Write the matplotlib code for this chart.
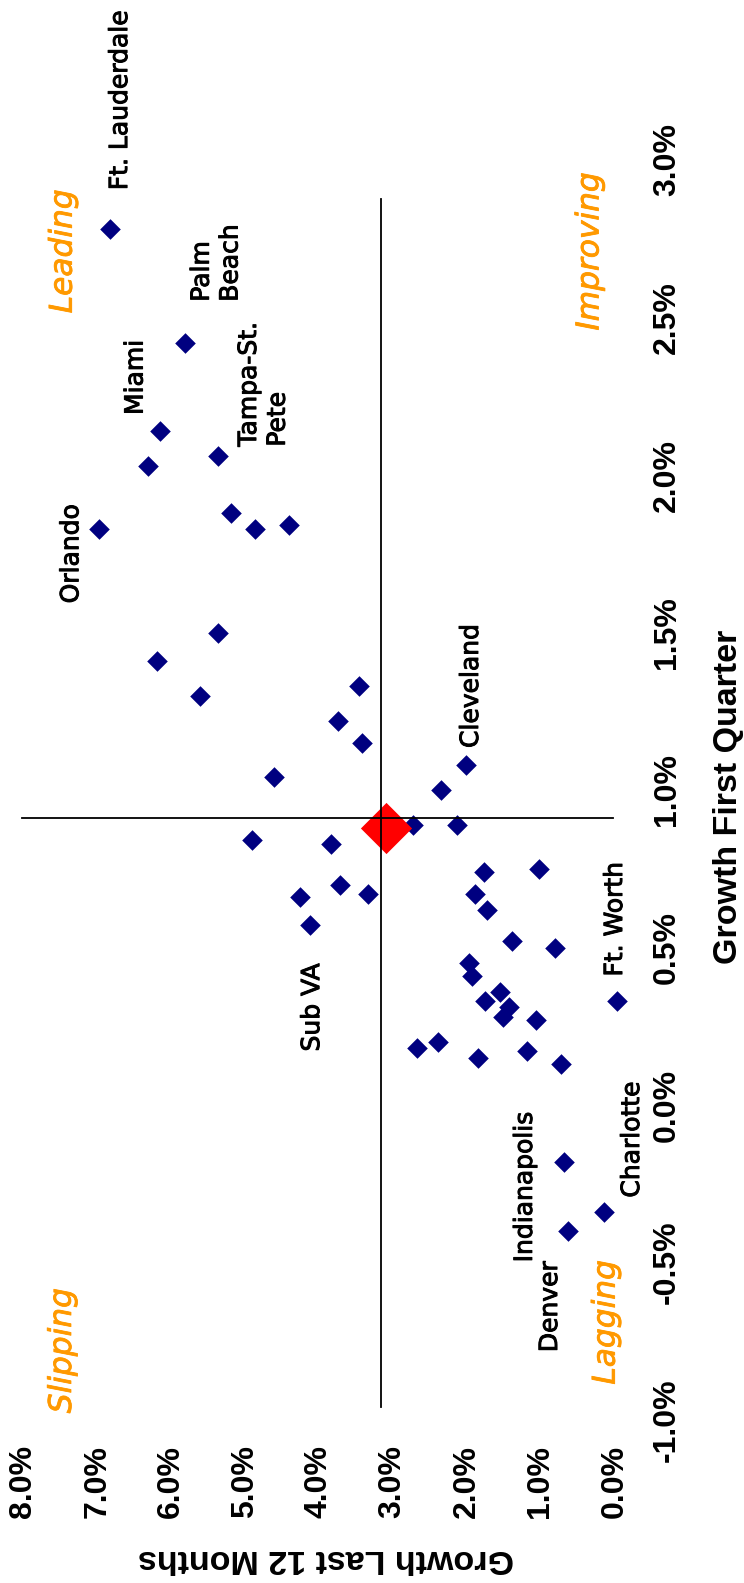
import matplotlib
matplotlib.use("Agg")
import matplotlib.pyplot as plt
import matplotlib.patheffects as pe
from matplotlib.ticker import FuncFormatter, FixedLocator

# ---- data: (growth last 12 months %, growth first quarter %) ----
last12 = [6.82, 5.81, 6.15, 6.31, 5.36, 6.98, 5.19, 4.86, 4.41, 5.36,
          6.19, 5.61, 3.46, 3.74, 3.42, 4.61, 2.01, 2.34, 2.72, 2.13,
          4.90, 3.83, 4.25, 3.71, 3.33, 4.12, 1.76, 1.02, 1.88, 1.72,
          1.38, 0.80, 1.97, 1.92, 1.55, 1.75, 1.43, 1.50, 1.06, -0.03,
          2.67, 2.38, 1.84, 1.18, 0.72, 0.68, 0.14, 0.63]
first_q = [2.78, 2.42, 2.14, 2.03, 2.06, 1.83, 1.88, 1.83, 1.84, 1.50,
           1.41, 1.30, 1.33, 1.22, 1.15, 1.04, 1.08, 1.00, 0.89, 0.89,
           0.84, 0.83, 0.66, 0.70, 0.67, 0.57, 0.74, 0.75, 0.67, 0.62,
           0.52, 0.50, 0.45, 0.41, 0.36, 0.33, 0.31, 0.28, 0.27, 0.33,
           0.18, 0.20, 0.15, 0.17, 0.13, -0.18, -0.34, -0.40]

us_last12 = 3.09
us_first_q = 0.88
avg_last12 = 3.16
avg_first_q = 0.91

x_ticks = [0, 1, 2, 3, 4, 5, 6, 7, 8]
y_ticks = [-1.0, -0.5, 0.0, 0.5, 1.0, 1.5, 2.0, 2.5, 3.0]

# metro labels: (text, x, y)
metro_labels = [
    ("Ft. Lauderdale", 6.69, 3.19),
    ("Miami", 6.48, 2.31),
    ("Orlando", 7.35, 1.75),
    ("Cleveland", 1.94, 1.33),
    ("Ft. Worth", -0.01, 0.59),
    ("Sub VA", 4.09, 0.31),
    ("Charlotte", -0.24, -0.11),
    ("Indianapolis", 1.21, -0.26),
    ("Denver", 0.87, -0.64),
]
multi_labels = [("Palm\nBeach", 5.39, 2.55), ("Tampa-St.\nPete", 4.75, 2.09)]
quadrants = [("Leading", 7.46, 2.71), ("Improving", 0.33, 2.71),
             ("Slipping", 7.47, -0.78), ("Lagging", 0.11, -0.69)]

W, H = 744, 1583
fig = plt.figure(figsize=(W / 100, H / 100), dpi=100)
ax = fig.add_axes([23.3 / W, 1 - 1420 / H, (614.3 - 23.3) / W, (1420 - 160) / H])
ax.set_xlim(8.0, 0.0)
ax.set_ylim(-1.0, 3.0)
for s in ax.spines.values():
    s.set_visible(False)

navy = "#000080"
orange = "#FF9900"

ax.scatter(last12, first_q, marker="D", s=110, color=navy, linewidths=0,
           zorder=3, clip_on=False)
ax.scatter([us_last12], [us_first_q], marker="D", s=680, color="#FF0000",
           linewidths=0, zorder=4, clip_on=False)

ax.plot([8.02, 0.02], [avg_first_q, avg_first_q], color="black", lw=1.3,
        zorder=5, clip_on=False)
ax.plot([avg_last12, avg_last12], [2.876, -0.96], color="black", lw=1.3,
        zorder=5, clip_on=False)

bold_black = [pe.withStroke(linewidth=0.7, foreground="black")]
bold_orange = [pe.withStroke(linewidth=0.6, foreground=orange)]
lab_font = dict(family="DejaVu Sans", fontsize=18, color="black",
                path_effects=bold_black)
for t, x, y in metro_labels:
    ax.text(x, y, t, rotation=90, ha="center", va="center", **lab_font)
for t, x, y in multi_labels:
    ax.text(x, y, t, rotation=90, ha="center", va="bottom",
            multialignment="left", linespacing=1.25, **lab_font)
for t, x, y in quadrants:
    ax.text(x, y, t, rotation=90, ha="center", va="center", style="italic",
            family="DejaVu Sans", fontsize=22.5, color=orange,
            path_effects=bold_orange)

tick_font = dict(family="Liberation Sans", weight="bold", size=23)
ax.xaxis.set_major_locator(FixedLocator(x_ticks))
ax.yaxis.set_major_locator(FixedLocator(y_ticks))
ax.xaxis.set_major_formatter(FuncFormatter(lambda v, p: f"{v:.1f}%"))
ax.yaxis.set_major_formatter(FuncFormatter(lambda v, p: f"{v:.1f}%"))
ax.yaxis.tick_right()
ax.tick_params(axis="x", length=0, pad=18)
ax.tick_params(axis="y", length=0, pad=27)
for lb in ax.get_xticklabels():
    lb.set_rotation(90)
    lb.set_ha("center")
    lb.set_va("top")
    lb.set_fontproperties(matplotlib.font_manager.FontProperties(**tick_font))
for lb in ax.get_yticklabels():
    lb.set_rotation(90)
    lb.set_ha("left")
    lb.set_va("center")
    lb.set_fontproperties(matplotlib.font_manager.FontProperties(**tick_font))

fig.text(728 / W, 1 - 797 / H, "Growth First Quarter", rotation=90,
         ha="center", va="center", family="Liberation Sans", weight="bold",
         fontsize=24.5)
fig.text(326.5 / W, 1 - 1559 / H, "Growth Last 12 Months", rotation=180,
         ha="center", va="center", family="Liberation Sans", weight="bold",
         fontsize=24.5)

fig.savefig("out.png", dpi=100)
